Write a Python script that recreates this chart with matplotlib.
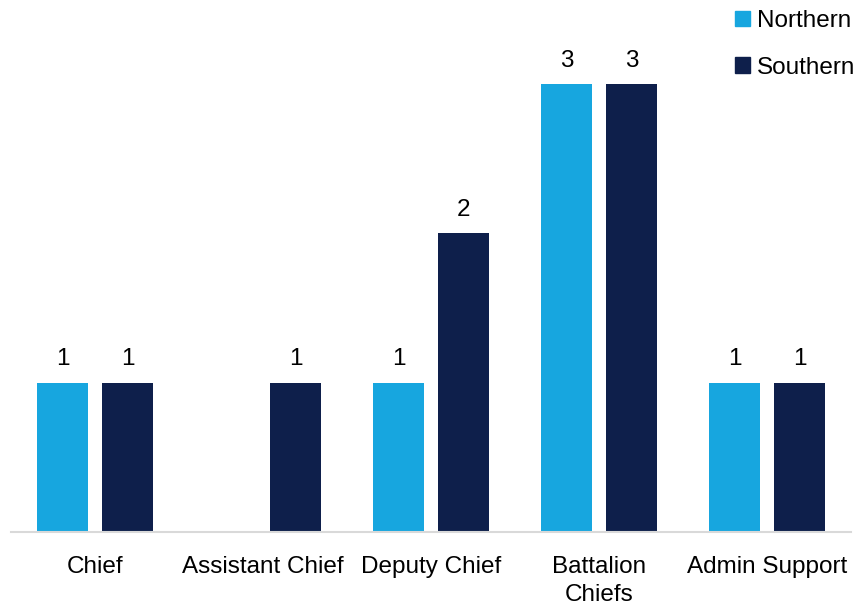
import numpy as np
import matplotlib
matplotlib.use("Agg")
import matplotlib.pyplot as plt
from matplotlib.patches import Patch

categories = ["Chief", "Assistant Chief", "Deputy Chief", "Battalion\nChiefs", "Admin Support"]
northern = [1, 0, 1, 3, 1]
southern = [1, 1, 2, 3, 1]
series_names = ["Northern", "Southern"]
colors = ["#17A6DF", "#0E1F4B"]

plt.rcParams['font.family'] = ['Liberation Sans', 'DejaVu Sans']
fs = 17.5

fig = plt.figure(figsize=(8.58, 6.06), dpi=100)
ax = fig.add_axes([11 / 858, 74 / 606, 840 / 858, 532 / 606])

x = np.arange(len(categories))
w = 0.304
off = 0.193
b1 = ax.bar(x - off, northern, w, color=colors[0], label=series_names[0])
b2 = ax.bar(x + off, southern, w, color=colors[1], label=series_names[1])

# value labels, skip empty bars
for bars, vals in ((b1, northern), (b2, southern)):
    for rect, v in zip(bars, vals):
        if v == 0:
            continue
        ax.annotate(str(v), (rect.get_x() + rect.get_width() / 2, v),
                    xytext=(0, 9), textcoords="offset points",
                    ha="center", va="bottom", fontsize=fs, color="#000000")

ax.set_xlim(-0.5, 4.5)
ax.set_ylim(0, 3.563)
ax.set_xticks(x)
ax.set_xticklabels(categories, fontsize=fs, color="#000000", linespacing=1.38)
ax.tick_params(axis="x", length=0, pad=17)
ax.set_yticks([])
for s in ["top", "right", "left"]:
    ax.spines[s].set_visible(False)
ax.spines["bottom"].set_color("#D9D9D9")
ax.spines["bottom"].set_linewidth(1.5)

handles = [Patch(color=c, label=n) for c, n in zip(colors, series_names)]
fig.legend(handles=handles, loc="upper right", bbox_to_anchor=(1.014, 1.007),
           frameon=False, fontsize=fs, handlelength=0.6, handleheight=0.6,
           handletextpad=0.3, labelspacing=1.0, borderaxespad=0.2)

fig.savefig("out.png", dpi=100)
